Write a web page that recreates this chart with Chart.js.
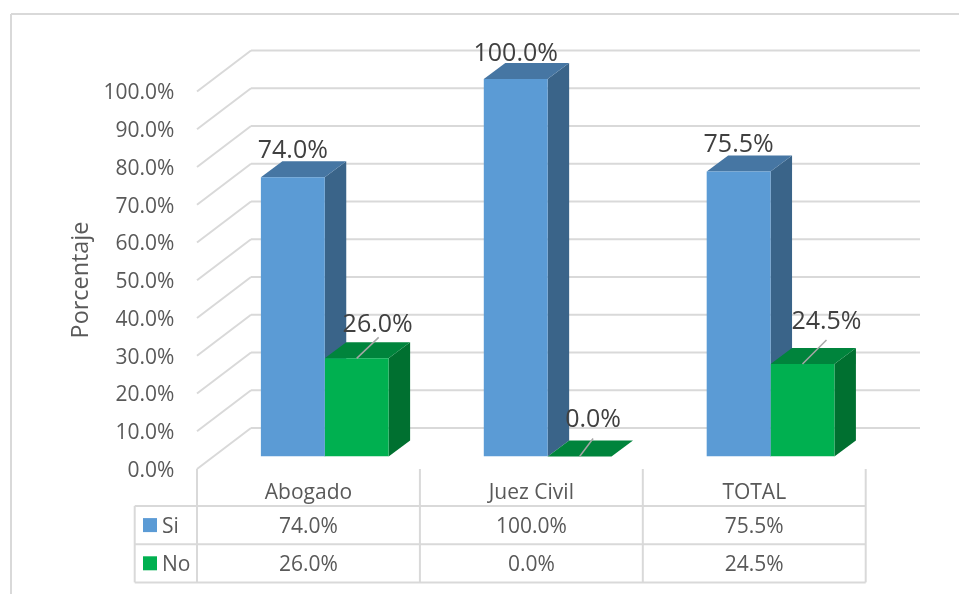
<!DOCTYPE html>
<html>
<head>
<meta charset="utf-8">
<title>Porcentaje</title>
<script src="https://cdn.jsdelivr.net/npm/chart.js@4"></script>
<style>
  html, body { margin: 0; padding: 0; background: #fff; }
  canvas { display: block; }
</style>
</head>
<body>
<canvas id="myChart" width="959" height="594"></canvas>
<script>
const categories = ['Abogado', 'Juez Civil', 'TOTAL'];
const si = [74.0, 100.0, 75.5];
const no = [26.0, 0.0, 24.5];
const seriesNames = ['Si', 'No'];
const yTitle = 'Porcentaje';

const font = '"Open Sans", sans-serif';
const gridColor = '#d9d9d9';
const pct = v => v.toFixed(1) + '%';

// depth of the bars, and of the floor / walls around them
const depthX = 21.5, depthY = 16;
const wallBack = 28.5, wallFront = 12.5;
const wallLeft = 197, wallMid = 251, wallRight = 920;

// side and top colours for the fake 3D, one pair per series
const shade = [
  { front: '#5b9bd5', side: '#3a6489', top: '#4676a3' },
  { front: '#00b050', side: '#007030', top: '#00843c' }
];

// labels that sit off the bar with a leader line, [series][category]
const labelShift = [
  [{ dx: 0, dy: -28 }, { dx: 0, dy: -27 }, { dx: 0, dy: -28 }],
  [{ dx: 21, dy: -35, leader: [22, -21] }, { dx: 13.5, dy: -38, leader: [13.5, -18] }, { dx: 24, dy: -44, leader: [24, -24] }]
];

function line(c, x1, y1, x2, y2) {
  c.beginPath();
  c.moveTo(x1, y1);
  c.lineTo(x2, y2);
  c.stroke();
}

function poly(c, color, pts) {
  c.fillStyle = color;
  c.beginPath();
  pts.forEach((p, i) => i ? c.lineTo(p[0], p[1]) : c.moveTo(p[0], p[1]));
  c.closePath();
  c.fill();
}

// Open Sans sits a bit high on its middle baseline, hence the +1.5
function text(c, str, x, y, size, color, align) {
  c.font = size + 'px ' + font;
  c.fillStyle = color;
  c.textAlign = align || 'center';
  c.textBaseline = 'middle';
  c.fillText(str, x, y + 1.5);
}

const walls = {
  id: 'walls',
  beforeDatasetsDraw(chart) {
    const c = chart.ctx, y = chart.scales.y;
    c.save();

    // outer frame
    c.strokeStyle = gridColor;
    c.lineWidth = 2;
    line(c, 11, 14, 959, 14);
    line(c, 11, 14, 11, 594);

    // back wall and side wall lines
    y.ticks.forEach(t => {
      const p = y.getPixelForValue(t.value);
      line(c, wallMid, p - wallBack, wallRight, p - wallBack);
      line(c, wallLeft, p + wallFront, wallMid, p - wallBack);
    });

    // sides and tops of the bars
    chart.data.datasets.forEach((ds, i) => {
      chart.getDatasetMeta(i).data.forEach(b => {
        const l = b.x - b.width / 2, r = b.x + b.width / 2;
        poly(c, shade[i].side, [[r, b.y], [r + depthX, b.y - depthY], [r + depthX, b.base - depthY], [r, b.base]]);
        poly(c, shade[i].top, [[l, b.y], [l + depthX, b.y - depthY], [r + depthX, b.y - depthY], [r, b.y]]);
      });
    });
    c.restore();
  },
  afterDatasetsDraw(chart) {
    const c = chart.ctx, x = chart.scales.x, y = chart.scales.y;
    c.save();

    // data labels
    chart.data.datasets.forEach((ds, i) => {
      chart.getDatasetMeta(i).data.forEach((b, j) => {
        const s = labelShift[i][j];
        if (s.leader) {
          c.strokeStyle = '#a6a6a6';
          c.lineWidth = 1.5;
          line(c, b.x, b.y, b.x + s.leader[0], b.y + s.leader[1]);
        }
        text(c, pct(ds.data[j]), b.x + s.dx, b.y + s.dy, 25, '#404040');
      });
    });

    // axis title
    c.save();
    c.translate(80, 280);
    c.rotate(-Math.PI / 2);
    text(c, yTitle, 0, 0, 23.4, '#595959');
    c.restore();

    // data table under the chart
    const colShift = -16.3;
    const rowTop = 506, rowH = 38.2, rows = [rowTop, rowTop + rowH, rowTop + rowH * 2];
    const colW = x.getPixelForValue(1) - x.getPixelForValue(0);
    const cols = categories.map((n, j) => x.getPixelForValue(j) + colShift);
    const left = cols[0] - colW / 2, keyLeft = 134.7;
    const right = cols[2] + colW / 2;
    const floor = y.getPixelForValue(0) + wallFront;

    c.strokeStyle = gridColor;
    c.lineWidth = 2;
    rows.forEach(r => line(c, keyLeft, r, right, r));
    line(c, keyLeft, rows[0], keyLeft, rows[2]);
    for (let j = 0; j <= categories.length; j++) {
      line(c, left + colW * j, floor, left + colW * j, rows[2]);
    }

    categories.forEach((n, j) => {
      text(c, n, cols[j], 492, 21, '#595959');
      chart.data.datasets.forEach((ds, i) => {
        text(c, pct(ds.data[j]), cols[j], rows[i] + rowH / 2, 21, '#595959');
      });
    });

    // legend keys in the first column
    chart.data.datasets.forEach((ds, i) => {
      const mid = rows[i] + rowH / 2;
      c.fillStyle = shade[i].front;
      c.fillRect(143, mid - 7, 14, 14);
      text(c, ds.label, 162, mid, 21, '#595959', 'left');
    });
    c.restore();
  }
};

const ctx = document.getElementById('myChart');
new Chart(ctx, {
  type: 'bar',
  data: {
    labels: categories,
    datasets: [
      { label: seriesNames[0], data: si, backgroundColor: shade[0].front },
      { label: seriesNames[1], data: no, backgroundColor: shade[1].front }
    ]
  },
  options: {
    responsive: false,
    animation: false,
    categoryPercentage: 0.573,
    barPercentage: 1,
    layout: { padding: { top: 79, right: 77, bottom: 137.5, left: 0 } },
    plugins: {
      legend: { display: false },
      title: { display: false },
      tooltip: { enabled: false }
    },
    scales: {
      x: { display: false },
      y: {
        min: 0,
        max: 100,
        afterFit: s => { s.width = 213.3; },
        grid: { display: false, drawTicks: false },
        border: { display: false },
        ticks: {
          stepSize: 10,
          padding: 39,
          labelOffset: 14.5,
          color: '#595959',
          font: { family: 'Open Sans', size: 21 },
          callback: v => pct(v)
        }
      }
    }
  },
  plugins: [walls]
});
</script>
</body>
</html>
